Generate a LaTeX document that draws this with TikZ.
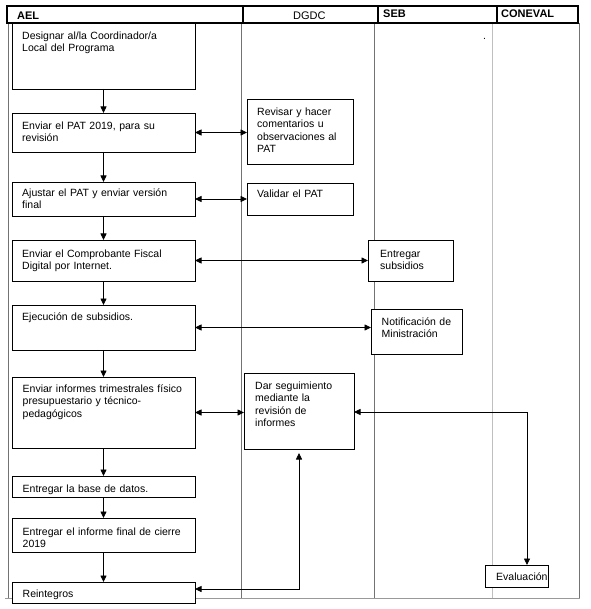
\documentclass[tikz,border=0pt]{standalone}
\usepackage{fontspec}
\setmainfont{Liberation Sans}
\usetikzlibrary{arrows.meta}
\newcommand\mybox[5]{\node[box, minimum width={(#4-#2)*1pt}, minimum height={(#5-#3)*1pt}] (#1) at (#2,#3) {};}
\begin{document}
\begin{tikzpicture}[x=1pt,y=-1pt,
  box/.style={draw=black, line width=0.9pt, fill=white, anchor=north west, inner sep=0pt, outer sep=0pt},
  txt/.style={anchor=base west, inner sep=0pt, align=left, text width=#1, font=\fontsize{10.5}{12.3}\selectfont},
  txt/.default=175pt,
  head/.style={draw=black, line width=1.3pt, anchor=north west, inner sep=0pt, outer sep=0pt},
  htxt/.style={anchor=base west, inner sep=0pt, font=\fontsize{11}{13}\selectfont},
  lane/.style={draw=black!55, line width=0.8pt},
  flow/.style={-{Triangle[width=6pt,length=6.5pt]}, line width=0.8pt},
  both/.style={{Triangle[width=6pt,length=6.5pt]}-{Triangle[width=6pt,length=6.5pt]}, line width=0.8pt}
]
\fill[white] (0,0) rectangle (590,609);
\useasboundingbox (0,0) rectangle (590,609);

% lanes
\draw[lane] (8,23) -- (8,598);
\draw[lane] (241,23) -- (241,598);
\draw[lane] (374,23) -- (374,598);
\draw[lane, draw=black!25, line width=1pt] (492,23) -- (492,598);
\draw[lane] (579,23) -- (579,598);
\draw[lane, draw=black!40] (5,598) -- (580,598);

% header
\node[head, minimum width=236pt, minimum height=17pt] (hael) at (7,6) {};
\node[head, minimum width=135pt, minimum height=17pt] (hdgdc) at (243,6) {};
\node[head, minimum width=119pt, minimum height=17pt] (hseb) at (378,6) {};
\node[head, minimum width=81pt, minimum height=17pt] (hcon) at (497,6) {};
\node[htxt, font=\fontsize{11}{13}\selectfont\bfseries] (tael) at (17,20) {AEL};
\node[htxt] (tdgdc) at (293,20) {DGDC};
\node[htxt, font=\fontsize{11}{13}\selectfont\bfseries] (tseb) at (383,17.5) {SEB};
\node[htxt, font=\fontsize{11}{13}\selectfont\bfseries] (tcon) at (501,17.5) {CONEVAL};
\node[txt=10pt] (dot) at (483,40) {.};

% boxes
\mybox{b1}{12}{23}{195}{89}
\node[txt] (t1) at (22,39.5) {Designar al/la Coordinador/a\\Local del Programa};
\mybox{b2}{12}{113}{195}{152}
\node[txt] (t2) at (22,129.5) {Enviar el PAT 2019, para su\\revisión};
\mybox{b3}{247}{99}{353}{164}
\node[txt=95pt] (t3) at (257,115.5) {Revisar y hacer\\comentarios u\\observaciones al\\PAT};
\mybox{b4}{12}{182}{195}{216}
\node[txt] (t4) at (22,196.5) {Ajustar el PAT y enviar versión\\final};
\mybox{b5}{247}{183}{353}{215}
\node[txt=95pt] (t5) at (257,198) {Validar el PAT};
\mybox{b6}{12}{240}{195}{281}
\node[txt] (t6) at (22,257) {Enviar el Comprobante Fiscal\\Digital por Internet.};
\mybox{b7}{368}{240}{453}{281}
\node[txt=75pt] (t7) at (380,257) {Entregar\\subsidios};
\mybox{b8}{12}{305}{195}{350}
\node[txt] (t8) at (22,320) {Ejecución de subsidios.};
\mybox{b9}{371}{309}{462}{354}
\node[txt=85pt] (t9) at (381.5,325.5) {Notificación de\\Ministración};
\mybox{b10}{12}{377}{195}{448}
\node[txt] (t10) at (22.5,392.5) {Enviar informes trimestrales físico\\presupuestario y técnico-\\pedagógicos};
\mybox{b11}{244}{373}{354}{449}
\node[txt=100pt] (t11) at (255,389.5) {Dar seguimiento\\mediante la\\revisión de\\informes};
\mybox{b12}{12}{476}{195}{497}
\node[txt] (t12) at (22.5,492) {Entregar la base de datos.};
\mybox{b13}{12}{518}{195}{552}
\node[txt] (t13) at (22.5,535) {Entregar el informe final de cierre\\2019};
\mybox{b14}{12}{582}{195}{603}
\node[txt] (t14) at (22.5,597.5) {Reintegros};
\mybox{b15}{485}{565}{548}{587}
\node[txt=55pt] (t15) at (496,580.5) {Evaluación};

% vertical flow in AEL
\draw[flow] (b1.south) -- (b2.north);
\draw[flow] (b2.south) -- (b4.north);
\draw[flow] (b4.south) -- (b6.north);
\draw[flow] (b6.south) -- (b8.north);
\draw[flow] (b8.south) -- (b10.north);
\draw[flow] (b10.south) -- (b12.north);
\draw[flow] (b12.south) -- (b13.north);
\draw[flow] (b13.south) -- (b14.north);

% horizontal exchanges
\draw[both] (b2.east) -- (b2.east -| b3.west);
\draw[both] (b4.east) -- (b4.east -| b5.west);
\draw[both] (b6.east) -- (b6.east -| b7.west);
\draw[both] (b8.east) -- (b8.east -| b9.west);
\draw[both] (b10.east) -- (b10.east -| b11.west);
\draw[both] ([yshift=-1pt]b11.east) -| ([xshift=10.5pt]b15.north);
\draw[both, shorten >=4pt] ([yshift=3.5pt]b14.east) -| (b11.south);
\end{tikzpicture}
\end{document}
